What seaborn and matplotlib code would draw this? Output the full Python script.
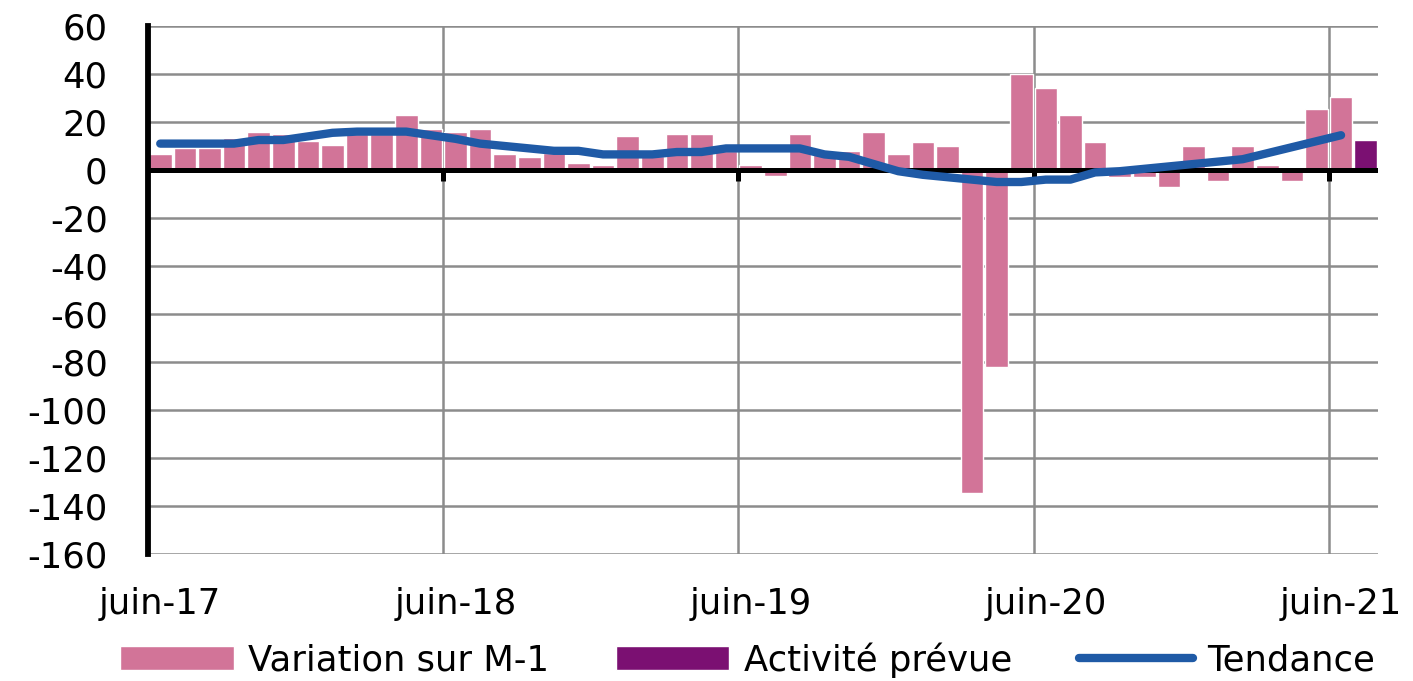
import matplotlib
matplotlib.use("Agg")
import matplotlib.pyplot as plt
import seaborn as sns
import numpy as np
import pandas as pd
from matplotlib.patches import Patch
from matplotlib.lines import Line2D

# monthly survey balance, juin-17 .. juin-21, plus the forecast for juil-21
variation = [6.5, 9, 9, 13.5, 16, 15, 12, 10.5, 15, 15, 23, 17,
             16, 17, 6.5, 5.5, 7, 3, 2, 14, 6, 15, 15, 8,
             2, -2.5, 15, 8, 8, 16, 6.5, 11.5, 10, -134.5, -82, 40,
             34, 23, 11.5, -3, -3, -7, 10, -4.5, 10, 2, -4.5, 25.5,
             30.5]
prevue = [12.5]
tendance = [11, 11, 11, 11, 12.5, 12.5, 14, 15.5, 16, 16, 16, 14.5,
            13, 11, 10, 9, 8, 8, 6.5, 6.5, 6.5, 7.5, 7.5, 9,
            9, 9, 9, 6.5, 5.5, 2.5, -0.5, -2, -3, -4, -5, -5,
            -4, -4, -1, -0.5, 0.5, 1.5, 2.5, 3.5, 4.5, 7, 9.5, 12,
            14.5]

mois_fr = ["janv", "févr", "mars", "avr", "mai", "juin",
           "juil", "août", "sept", "oct", "nov", "déc"]
dates = pd.date_range("2017-06-01", periods=len(variation) + len(prevue), freq="MS")
labels = [f"{mois_fr[d.month - 1]}-{d.strftime('%y')}" for d in dates]

df = pd.DataFrame({
    "mois": labels,
    "valeur": variation + prevue,
    "serie": ["Variation sur M-1"] * len(variation) + ["Activité prévue"] * len(prevue),
})

pink = "#D27498"
purple = "#7B1072"
blue = "#1F5AA6"
grid_col = "#8C8C8C"

sns.set_theme(style="white")
plt.rcParams["font.family"] = ["DejaVu Sans"]
plt.rcParams["axes.unicode_minus"] = False
plt.rcParams["text.color"] = "black"
plt.rcParams["xtick.color"] = "black"
plt.rcParams["ytick.color"] = "black"

fig = plt.figure(figsize=(14.13, 6.81), dpi=100)
ax = fig.add_axes([0.1047, 0.1865, 0.8705, 0.7753])

sns.barplot(data=df, x="mois", y="valeur", hue="serie", order=labels,
            palette={"Variation sur M-1": pink, "Activité prévue": purple},
            dodge=False, width=0.92, saturation=1, ax=ax, zorder=2,
            legend=False)

xs = np.arange(len(tendance))
sns.lineplot(x=xs, y=tendance, color=blue, linewidth=6, ax=ax, zorder=5,
             solid_capstyle="round")

ax.set_xlim(-0.5, len(labels) - 0.5)
ax.set_ylim(-160, 60)
ax.set_yticks(np.arange(-160, 61, 20))
ax.set_yticklabels([str(v) for v in range(-160, 61, 20)])

juin = [i for i, l in enumerate(labels) if l.startswith("juin")]
ax.set_xticks(juin)
ax.set_xticklabels([labels[i] for i in juin])
bounds = [i - 0.5 for i in juin if i > 0]
ax.set_xticks(bounds, minor=True)

ax.grid(True, axis="y", color=grid_col, linewidth=1.8, zorder=0)
ax.grid(True, axis="x", which="minor", color=grid_col, linewidth=1.8, zorder=0)
ax.grid(False, axis="x", which="major")
ax.set_axisbelow(True)

ax.tick_params(axis="both", which="both", length=0, labelsize=25.5,
               labelcolor="black")
ax.tick_params(axis="y", pad=29)
ax.tick_params(axis="x", pad=24)
ax.set_xlabel("")
ax.set_ylabel("")

for side in ["top", "right", "bottom"]:
    ax.spines[side].set_visible(False)
ax.spines["left"].set_color("black")
ax.spines["left"].set_linewidth(4.2)
ax.spines["left"].set_zorder(6)

# horizontal axis crossing at zero, with its tick marks
ax.axhline(0, color="black", linewidth=3.6, zorder=4)
ax.vlines(bounds, -4.5, 0, color="black", linewidth=3.6, zorder=4)

handles = [Patch(facecolor=pink, label="Variation sur M-1"),
           Patch(facecolor=purple, label="Activité prévue"),
           Line2D([0], [0], color=blue, linewidth=6, solid_capstyle="round", label="Tendance")]
fig.legend(handles=handles, loc="center", bbox_to_anchor=(0.529, 0.031), ncol=3,
           frameon=False, fontsize=25.5, handlelength=3.2, handleheight=0.68,
           handletextpad=0.4, columnspacing=1.9)

fig.savefig("out.png", dpi=100)
